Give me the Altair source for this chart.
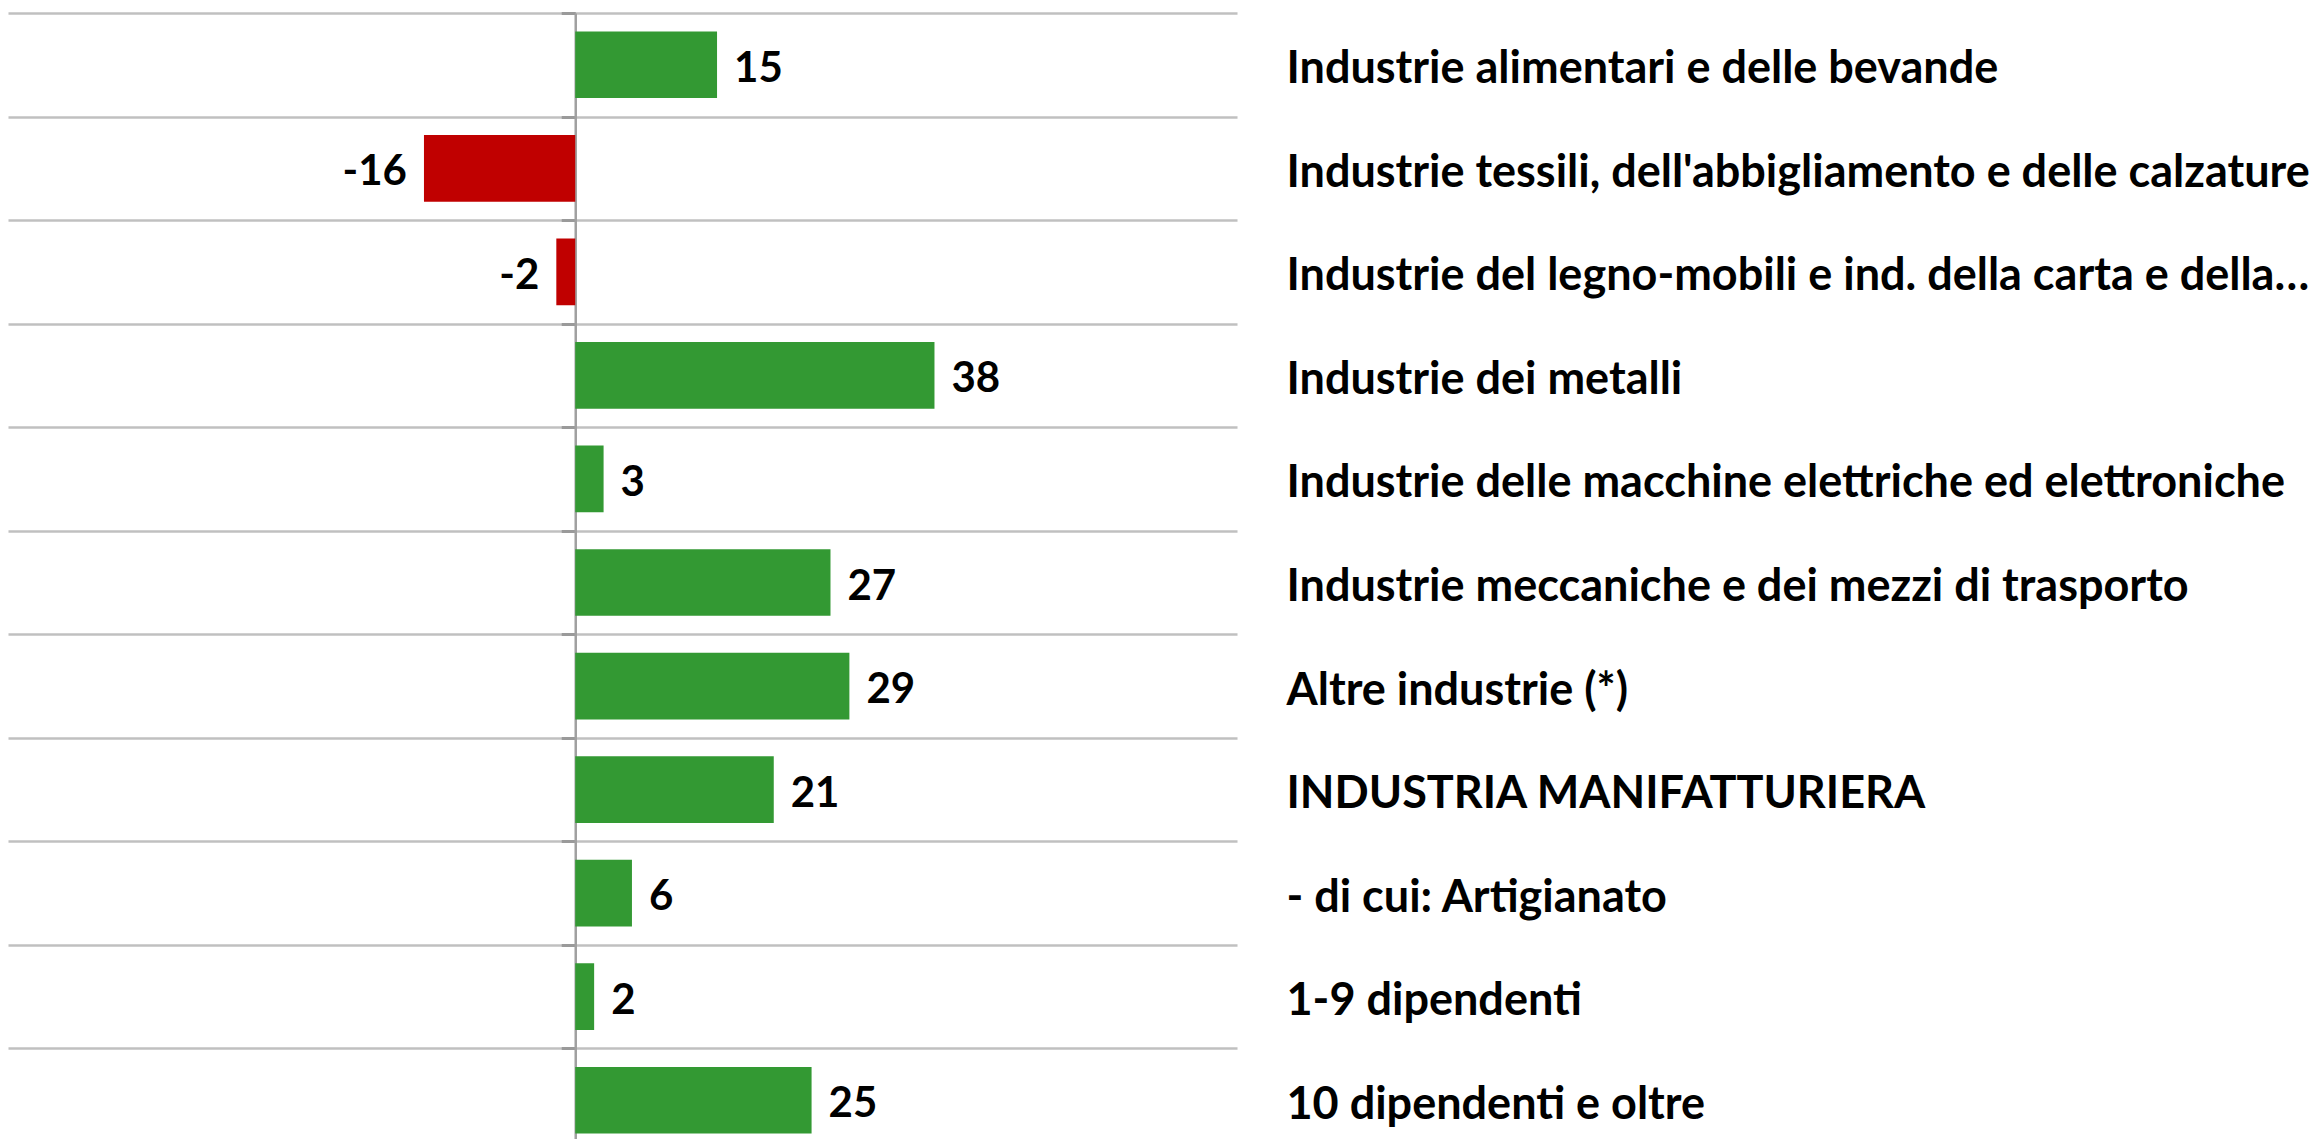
import altair as alt
import pandas as pd

categories = [
    "Industrie alimentari e delle bevande",
    "Industrie tessili, dell'abbigliamento e delle calzature",
    "Industrie del legno-mobili e ind. della carta e della\u2026",
    "Industrie dei metalli",
    "Industrie delle macchine elettriche ed elettroniche",
    "Industrie meccaniche e dei mezzi di trasporto",
    "Altre industrie (*)",
    "INDUSTRIA MANIFATTURIERA",
    "\u00a0- di cui: Artigianato",
    "1-9 dipendenti",
    "10 dipendenti e oltre",
]
values = [15, -16, -2, 38, 3, 27, 29, 21, 6, 2, 25]

x_domain = [-60, 70]

df = pd.DataFrame({"cat": categories, "v": values})

W = 1229
H = 1139
FONT = "Lato"
FS_LABEL = 45
FS_VALUE = 42
zero_px = W * (0 - x_domain[0]) / (x_domain[1] - x_domain[0])

x_enc = alt.X("v:Q", scale=alt.Scale(domain=x_domain, nice=False, zero=False), axis=None)
y_scale = alt.Scale(paddingInner=0, paddingOuter=0)

bars = alt.Chart(df).mark_bar(height=alt.RelativeBandSize(0.644)).encode(
    x=x_enc,
    y=alt.Y("cat:N", sort=categories, scale=y_scale, title=None,
            axis=alt.Axis(orient="right", grid=True, tickBand="extent",
                          gridColor="#c0c0c0", gridWidth=2.7,
                          ticks=False, tickSize=0, domain=False,
                          labelFont=FONT, labelFontSize=FS_LABEL, labelFontWeight="bold",
                          labelColor="#000000", labelPadding=49, labelLimit=2000,
                          labelAlign="left", labelBaseline="middle", labelOffset=4)),
    color=alt.condition(alt.datum.v < 0, alt.value("#C00000"), alt.value("#339933")),
)

text_base = alt.Chart(df).transform_calculate(lbl="'' + datum.v")

pos_text = text_base.transform_filter(alt.datum.v >= 0).mark_text(
    align="left", baseline="middle", dx=17, dy=4,
    font=FONT, fontSize=FS_VALUE, fontWeight="bold", color="#000000",
).encode(
    x=x_enc,
    y=alt.Y("cat:N", sort=categories, scale=y_scale, title=None,
            axis=alt.Axis(orient="left", offset=-zero_px, grid=False, labels=False,
                          tickBand="extent", ticks=True, tickSize=14,
                          tickColor="#9a9a9a", tickWidth=3,
                          domain=True, domainColor="#a0a0a0", domainWidth=2.5)),
    text=alt.Text("lbl:N"),
)

neg_text = text_base.transform_filter(alt.datum.v < 0).mark_text(
    align="right", baseline="middle", dx=-17, dy=4,
    font=FONT, fontSize=FS_VALUE, fontWeight="bold", color="#000000",
).encode(
    x=x_enc,
    y=alt.Y("cat:N", sort=categories, scale=y_scale, title=None, axis=None),
    text=alt.Text("lbl:N"),
)

chart = alt.layer(bars, pos_text, neg_text).resolve_axis(y="independent").properties(
    width=W, height=H,
    autosize=alt.AutoSizeParams(type="none"),
    padding={"top": 5, "left": 0, "right": 2307 - W, "bottom": 1131 - 5 - H},
    background="#ffffff",
).configure_view(stroke=None, strokeWidth=0)

chart.save("out.html", embed_options={"renderer": "svg", "actions": False})
